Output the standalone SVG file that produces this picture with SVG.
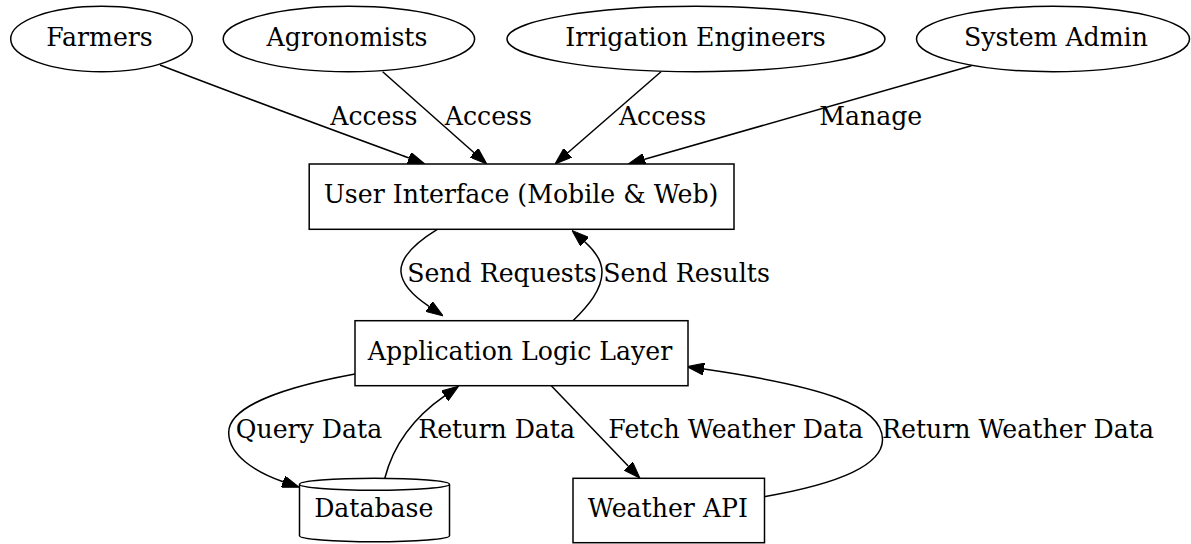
<svg xmlns="http://www.w3.org/2000/svg" width="1191" height="544" viewBox="0 0 1191 544">
<style>
  .nd { fill: #ffffff; stroke: #000000; stroke-width: 1.5; }
  .tx { font-family: "DejaVu Serif", "Liberation Serif", serif; font-size: 25.2px; fill: #000000; text-anchor: middle; }
  .ed { fill: none; stroke: #000000; stroke-width: 1.5; marker-end: url(#ah); }
</style>
<defs>
  <marker id="ah" markerWidth="17" markerHeight="12" refX="0" refY="6" orient="auto" markerUnits="userSpaceOnUse">
    <path d="M0,0 L17,6 L0,12 z" fill="#000000" stroke="#000000" stroke-width="1"/>
  </marker>
</defs>
<rect width="1191" height="544" fill="#ffffff"/>
<g id="connectors">
  <path class="ed" d="M160,65 C240,96 330,129 408.9,158"/>
  <path class="ed" d="M382.7,71.7 L474.1,152.7"/>
  <path class="ed" d="M661,71.7 L567.8,152.8"/>
  <path class="ed" d="M971.4,65.7 L644.6,159.3"/>
  <path class="ed" d="M437.3,229.3 C415,243 400,258 401,272 C402,286 415,297 429,306.4"/>
  <path class="ed" d="M573,320.7 C588,306 602,290 602,272 C602,260 594,250 584.7,241.7"/>
  <path class="ed" d="M355,374 C290,386 228,405 228.7,433 C229,455 255,472 283.1,481.7"/>
  <path class="ed" d="M384.8,478.3 C392,450 410,420 444.7,395.9"/>
  <path class="ed" d="M551.3,385.7 L628.2,466"/>
  <path class="ed" d="M764,496.7 C820,487 882,470 882.5,440 C883,405 820,386 703.9,369.1"/>
  <text class="tx" x="373.8" y="125">Access</text>
  <text class="tx" x="488.4" y="125">Access</text>
  <text class="tx" x="662.5" y="125">Access</text>
  <text class="tx" x="870.7" y="125">Manage</text>
  <text class="tx" x="502" y="281.7">Send Requests</text>
  <text class="tx" x="686.6" y="281.7">Send Results</text>
  <text class="tx" x="309" y="438">Query Data</text>
  <text class="tx" x="496.6" y="438">Return Data</text>
  <text class="tx" x="735.8" y="438">Fetch Weather Data</text>
  <text class="tx" x="1018" y="438">Return Weather Data</text>
</g>
<g id="farmers">
  <ellipse class="nd" cx="101.5" cy="39" rx="90.8" ry="32.7"/>
  <text class="tx" x="99.5" y="46">Farmers</text>
</g>
<g id="agronomists">
  <ellipse class="nd" cx="348.9" cy="39" rx="125.7" ry="32.7"/>
  <text class="tx" x="347" y="46">Agronomists</text>
</g>
<g id="irrigation">
  <ellipse class="nd" cx="696" cy="39" rx="189" ry="32.7"/>
  <text class="tx" x="695.5" y="46">Irrigation Engineers</text>
</g>
<g id="admin">
  <ellipse class="nd" cx="1053" cy="39" rx="136.5" ry="32.7"/>
  <text class="tx" x="1056" y="46">System Admin</text>
</g>
<g id="ui">
  <rect class="nd" x="309.2" y="164" width="424.8" height="65.3"/>
  <text class="tx" x="521" y="203.3">User Interface (Mobile &amp; Web)</text>
</g>
<g id="app">
  <rect class="nd" x="355" y="320.7" width="333" height="65"/>
  <text class="tx" x="520" y="360">Application Logic Layer</text>
</g>
<g id="database">
  <path class="nd" d="M449.5,484.3 C449.5,487.6 415.9,490.3 374.5,490.3 C333.1,490.3 299.5,487.6 299.5,484.3 C299.5,481 333.1,478.3 374.5,478.3 C415.9,478.3 449.5,481 449.5,484.3 L449.5,535.7 C449.5,539 415.9,541.7 374.5,541.7 C333.1,541.7 299.5,539 299.5,535.7 L299.5,484.3"/>
  <text class="tx" x="373.8" y="516.7">Database</text>
</g>
<g id="weather">
  <rect class="nd" x="573" y="478.3" width="191.5" height="64.4"/>
  <text class="tx" x="667.9" y="516.7">Weather API</text>
</g>
</svg>
